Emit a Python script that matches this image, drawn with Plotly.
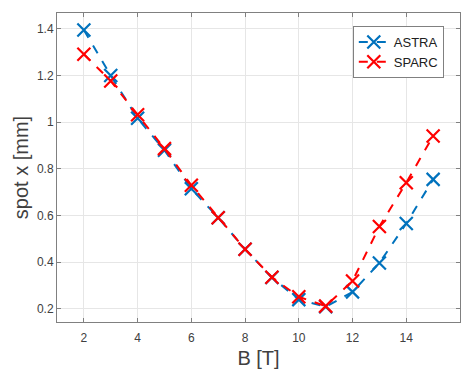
import plotly.graph_objects as go

B = [2, 3, 4, 5, 6, 7, 8, 9, 10, 11, 12, 13, 14, 15]
astra = [1.395, 1.200, 1.017, 0.880, 0.715, 0.591, 0.456, 0.335, 0.240, 0.209, 0.273, 0.397, 0.566, 0.755]
sparc = [1.291, 1.177, 1.032, 0.887, 0.730, 0.591, 0.456, 0.336, 0.252, 0.212, 0.320, 0.553, 0.741, 0.941]
xticks = [2, 4, 6, 8, 10, 12, 14]
yticks = [0.2, 0.4, 0.6, 0.8, 1.0, 1.2, 1.4]
ytick_text = ["0.2", "0.4", "0.6", "0.8", "1", "1.2", "1.4"]

fig = go.Figure()
for name, vals, col in [("ASTRA", astra, "#0072BD"), ("SPARC", sparc, "#FF0000")]:
    fig.add_trace(go.Scatter(
        x=B, y=vals, name=name, mode="lines+markers",
        line=dict(color=col, width=2, dash="dash"),
        marker=dict(symbol="x-thin", size=13, color=col, line=dict(color=col, width=2.2)),
    ))

axis_common = dict(
    showline=True, linecolor="#808080", linewidth=1, mirror="ticks",
    ticks="inside", ticklen=4, tickcolor="#808080",
    showgrid=True, gridcolor="#e6e6e6", gridwidth=1, zeroline=False,
    tickfont=dict(family="Liberation Sans, Arial", size=12, color="#404040"),
)
fig.update_xaxes(range=[1, 16], tickvals=xticks, ticktext=[str(v) for v in xticks],
                 ticklabelstandoff=5,
                 title=dict(text="B [T]", font=dict(family="Liberation Sans, Arial", size=20, color="#404040"), standoff=8),
                 **axis_common)
fig.update_yaxes(range=[0.144, 1.468], tickvals=yticks, ticktext=ytick_text,
                 title=dict(text="spot x [mm]", font=dict(family="Liberation Sans, Arial", size=20, color="#404040"), standoff=2),
                 **axis_common)

fig.update_layout(
    width=461, height=369,
    margin=dict(l=57, r=1, t=13, b=47),
    plot_bgcolor="white", paper_bgcolor="white",
    showlegend=True,
    legend=dict(x=0.734, y=0.958, xanchor="left", yanchor="top",
                bgcolor="white", bordercolor="#808080", borderwidth=1,
                font=dict(family="Liberation Sans, Arial", size=13, color="#202020"),
                itemwidth=30, tracegroupgap=0),
)
fig.write_html("out.html")
